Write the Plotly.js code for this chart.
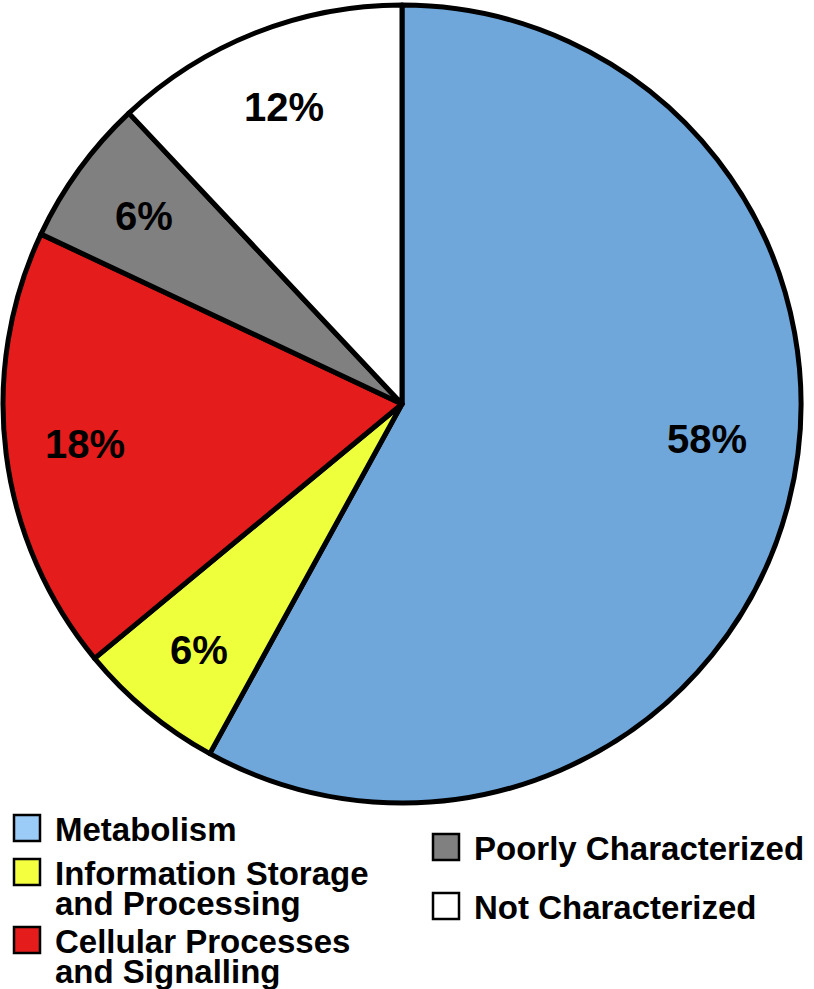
<!DOCTYPE html>
<html>
<head>
<meta charset="utf-8">
<script src="https://cdn.plot.ly/plotly-3.0.1.min.js"></script>
<style>html,body{margin:0;padding:0;background:#fff;}#chart{width:814px;height:989px;}</style>
</head>
<body>
<div id="chart"></div>
<script>
// Data
const categories = ["Metabolism", "Information Storage<br>and Processing", "Cellular Processes<br>and Signalling", "Poorly Characterized", "Not Characterized"];
const percents = [58, 6, 18, 6, 12];
const sliceColors = ["#6fa7db", "#eeff3c", "#e41c1c", "#808080", "#ffffff"];
const legendColors = ["#9bcbf7", "#f4ff40", "#e41c1c", "#808080", "#ffffff"];

const W = 814, H = 989;
const FONT = "Arial, 'Liberation Sans', Helvetica, sans-serif";

// pie geometry (pixels)
const CX = 402, CY = 404, R = 399;
const domX = [(CX - R) / W, (CX + R) / W];
const domY = [1 - (CY + R) / H, 1 - (CY - R) / H];

const trace = {
  type: "pie",
  values: percents,
  labels: categories,
  sort: false,
  direction: "clockwise",
  rotation: 0,
  marker: { colors: sliceColors, line: { color: "#000", width: 5 } },
  textinfo: "none",
  hoverinfo: "label+percent",
  showlegend: false,
  domain: { x: domX, y: domY }
};

const shapes = [], annotations = [];

// Percent labels placed along each slice's mid-angle
const total = percents.reduce((a, b) => a + b, 0);
let cum = 0;
percents.forEach((v) => {
  const frac = v / total;
  const mid = (cum + v / 2) / total * 2 * Math.PI; // clockwise from 12 o'clock
  cum += v;
  // large slices get their label pulled toward the horizontal
  const ang = frac > 0.5 ? mid - (mid - Math.PI / 2) * 0.55 : mid;
  const r = (frac > 0.5 ? 0.77 : 0.8) * R;
  const x = CX + r * Math.sin(ang);
  const y = CY - r * Math.cos(ang);
  annotations.push({
    xref: "paper", yref: "paper", x: x / W, y: 1 - y / H,
    xanchor: "center", yanchor: "middle", showarrow: false,
    text: v + "%",
    font: { family: FONT, size: 40, color: "#000", weight: 700 }
  });
});

// Legend (two columns) built from the category list
const px = (y) => 1 - y / H;
const colLayout = [
  { x: 14, y: 828 },
  { x: 14, y: 872 },
  { x: 14, y: 940 },
  { x: 433, y: 847 },
  { x: 433, y: 906 }
];
const SQ = 26, LINE = 30;
categories.forEach((c, i) => {
  const p = colLayout[i];
  shapes.push({
    type: "rect", xref: "paper", yref: "paper",
    x0: p.x / W, x1: (p.x + SQ) / W,
    y0: px(p.y + SQ / 2), y1: px(p.y - SQ / 2),
    fillcolor: legendColors[i], line: { color: "#000", width: 2.5 }
  });
  c.split("<br>").forEach((t, j) => {
    annotations.push({
      xref: "paper", yref: "paper",
      x: (p.x + SQ + 13) / W, y: px(p.y + 1 + j * LINE),
      xanchor: "left", yanchor: "middle",
      text: t, showarrow: false,
      font: { family: FONT, size: 33, color: "#000", weight: 700 }
    });
  });
});

const layout = {
  width: W, height: H,
  margin: { l: 0, r: 0, t: 0, b: 0 },
  paper_bgcolor: "#fff",
  showlegend: false,
  shapes: shapes,
  annotations: annotations
};

Plotly.newPlot("chart", [trace], layout, { displayModeBar: false, staticPlot: true });
</script>
</body>
</html>
